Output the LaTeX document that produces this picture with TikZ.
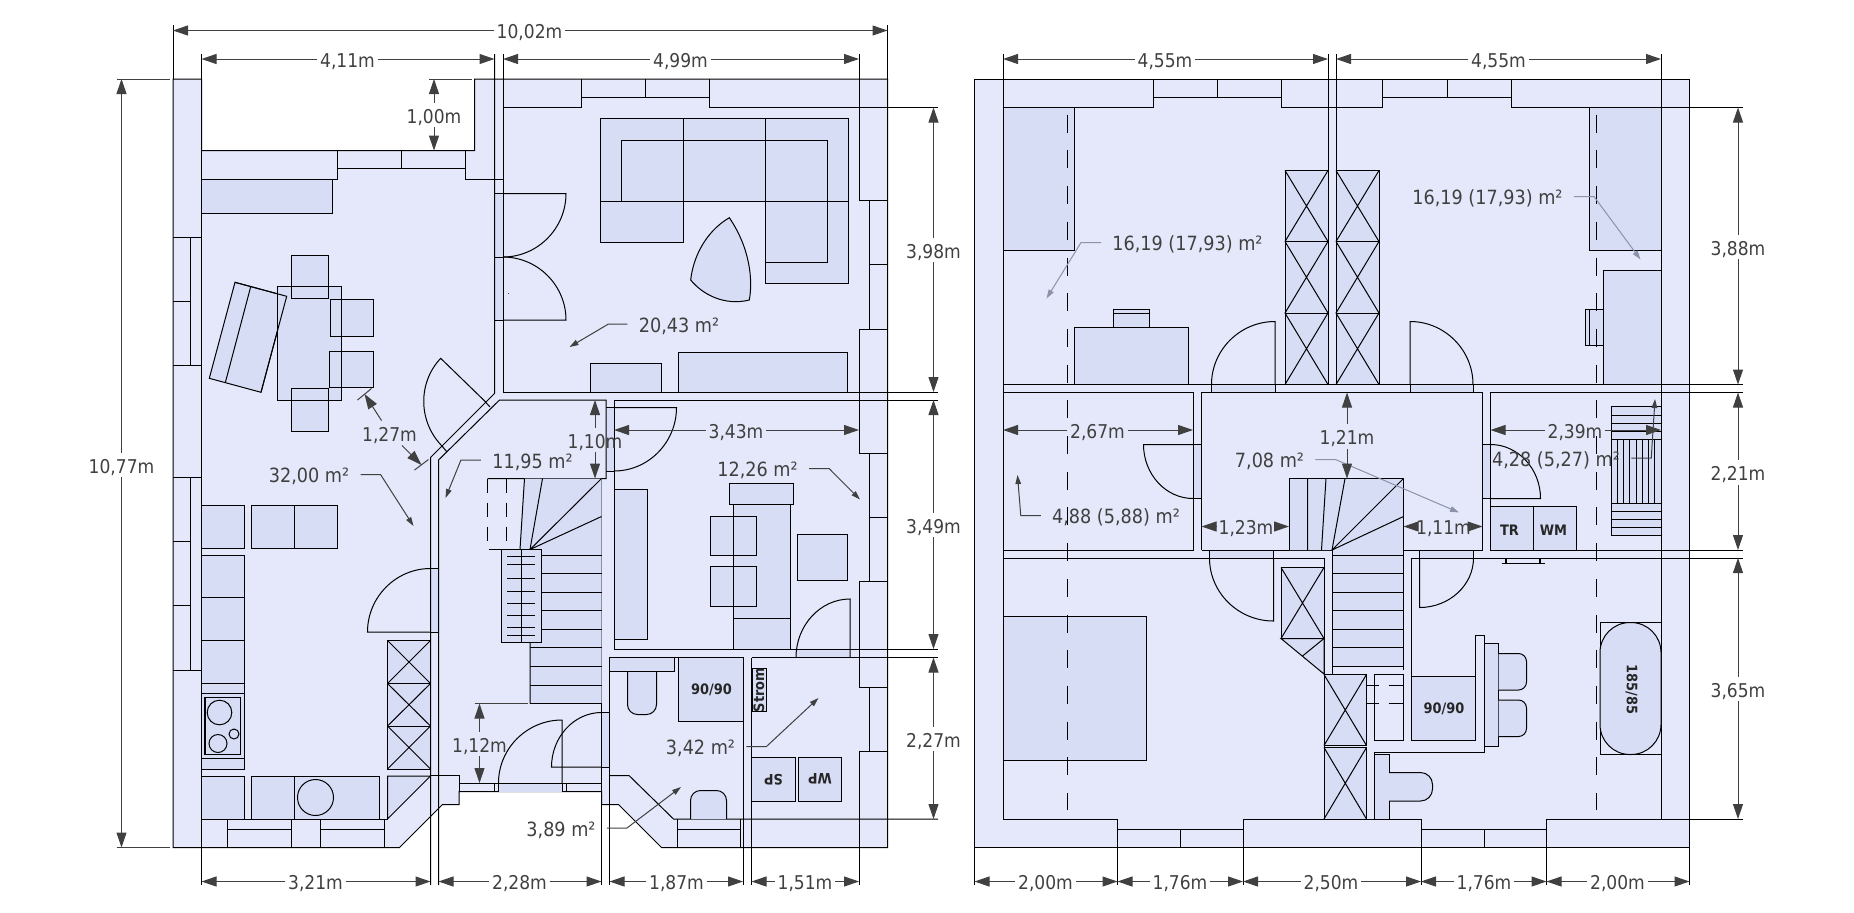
\documentclass[tikz,border=0pt]{standalone}
\usepackage{fontspec}
\setmainfont{DejaVu Sans Condensed}
\usetikzlibrary{arrows.meta,calc}
\definecolor{roomc}{RGB}{228,232,250}
\definecolor{furnc}{RGB}{216,221,246}
\definecolor{dimc}{RGB}{64,64,64}
\definecolor{paleleader}{RGB}{140,146,170}
\tikzstyle{wall} = [black,line width=.5pt,line join=miter]
\tikzstyle{furn} = [wall,fill=furnc]
\tikzstyle{dashwall} = [wall,dash pattern=on 9pt off 8.85pt]
\tikzstyle{dashstair} = [wall,dash pattern=on 7pt off 5pt]
\tikzstyle{lbl} = [text=dimc,font=\fontsize{9.5pt}{11pt}\selectfont,text height=8pt,text depth=0pt,inner xsep=1.2pt,inner ysep=2pt]
\tikzstyle{area} = [lbl,font=\fontsize{9.8pt}{11pt}\selectfont,inner xsep=5.5pt,inner ysep=0pt]
\tikzstyle{tag} = [text=black!85,font=\fontsize{7.2pt}{8pt}\selectfont\bfseries,inner sep=0pt]
\tikzstyle{dimarrow} = [dimc,line width=.5pt,-{Triangle[length=7.5pt,width=5pt]}]
\tikzstyle{leader} = [dimc,line width=.5pt,-{Triangle[length=4.5pt,width=2.8pt]}]
\tikzstyle{paleline} = [leader,paleleader]
% dimension: name, label position, text, both ends
\newcommand{\dimset}[5]{
  \node[lbl] (#1) at (#2) {#3};
  \draw[dimarrow] (#1) -- (#4);
  \draw[dimarrow] (#1) -- (#5);
}
% door: hinge, leaf end, end of the swing
\newcommand{\doorleaf}[3]{
  \draw[wall] (#1) -- (#2) .. controls ($(#2)+.55*(#3)-.55*(#1)$) and ($(#3)+.55*(#2)-.55*(#1)$) .. (#3);
}
% cupboard with crossed diagonals
\newcommand{\xbox}[4]{
  \draw[furn] (#1,#2) rectangle (#3,#4);
  \draw[wall] (#1,#2) -- (#3,#4) (#3,#2) -- (#1,#4);
}
\begin{document}
\begin{tikzpicture}[x=.5pt,y=-.5pt]
\useasboundingbox (0,0) rectangle (1854,912);

% Ground floor: outline
\draw[wall,fill=roomc] (173,79) -- (201.5,79) -- (201.5,150.5) -- (474.5,150.5) -- (474.5,79) -- (887.5,79) -- (887.5,847.5) -- (661.5,847.5) -- (618.5,804.5) -- (601.5,804.5) -- (601.5,791.5) -- (459,791.5) -- (459,804.5) -- (442.5,804.5) -- (399.5,847.5) -- (173,847.5) -- cycle;

% Door openings
\fill[furnc] (494.5,193.5) rectangle (503,320);
\fill[furnc] (430.5,568.5) rectangle (438.5,632);
\fill[furnc] (498.5,783) rectangle (562,791.5);
\fill[furnc] (601.5,712.5) rectangle (609.5,767);
\fill[furnc] (606,407.5) rectangle (614,471);
\fill[furnc] (796,649) rectangle (850,657.5);

% Walls
\draw[wall] (173,25) -- (173,79) (887.5,25) -- (887.5,79);
\draw[wall] (201.5,54) -- (201.5,885);
\draw[wall] (201.5,179) -- (337,179) -- (337,150.5);
\draw[wall] (337,168.5) -- (465.5,168.5) -- (465.5,150.5) (401.5,150.5) -- (401.5,168.5);
\draw[wall] (465.5,168.5) -- (465.5,179) -- (503,179);
\draw[wall] (494.5,54) -- (494.5,393.5) -- (430.5,457.5) -- (430.5,885);
\draw[wall] (503,54) -- (503,392) -- (938,392);
\draw[wall] (503,107.5) -- (581,107.5) -- (581,79) (581,97) -- (709,97) (645,79) -- (645,97);
\draw[wall] (709,79) -- (709,107.5) -- (938,107.5);
\draw[wall] (859,54) -- (859,200.5) -- (887.5,200.5) (869.5,200.5) -- (869.5,329) (869.5,264.5) -- (887.5,264.5);
\draw[wall] (887.5,329) -- (859,329) -- (859,453.5) -- (887.5,453.5) (869.5,453.5) -- (869.5,581) (869.5,517.5) -- (887.5,517.5);
\draw[wall] (887.5,581) -- (859,581) -- (859,687) -- (887.5,687) (869.5,687) -- (869.5,751);
\draw[wall] (887.5,751) -- (859,751) -- (859,885);
\draw[wall] (438.5,885) -- (438.5,460) -- (499.5,400) -- (606,400) -- (606,478.5) -- (487.5,478.5);
\draw[wall] (614,649) -- (614,400) -- (938,400);
\draw[wall] (614,649) -- (938,649);
\draw[wall] (609.5,657.5) -- (743,657.5) (751.5,657.5) -- (938,657.5);
\draw[wall] (609.5,885) -- (609.5,657.5);
\draw[wall] (609.5,775.5) -- (629,775.5) -- (673.5,819) -- (938,819);
\draw[wall] (601.5,478.5) -- (601.5,885);
\draw[wall] (743,657.5) -- (743,885) (751.5,657.5) -- (751.5,885);
\draw[wall] (677,819) -- (677,847.5) (740.5,819) -- (740.5,847.5) (677,829.5) -- (740.5,829.5);
\draw[wall] (459,791.5) -- (459,775.5) -- (430.5,775.5) (459,783) -- (601.5,783);
\draw[wall] (494.5,783) -- (494.5,791.5) (498.5,783) -- (498.5,791.5) (562,783) -- (562,791.5) (566,783) -- (566,791.5);

% Windows left and below
\draw[wall] (173,237) -- (201.5,237) (190.5,237) -- (190.5,365.5) (173,301.5) -- (190.5,301.5) (173,365.5) -- (201.5,365.5);
\draw[wall] (173,477) -- (201.5,477) (190.5,477) -- (190.5,670) (173,541.5) -- (190.5,541.5) (173,605.5) -- (190.5,605.5) (173,670) -- (201.5,670);
\draw[wall] (227,819) -- (227,847.5) (291,819) -- (291,847.5) (320,819) -- (320,847.5) (384,819) -- (384,847.5);
\draw[wall] (227,829.5) -- (291,829.5) (320,829.5) -- (384,829.5);

% Doors
\draw[wall] (494.5,193.5) -- (503,193.5) (494.5,257) -- (503,257) (494.5,320) -- (503,320);
\doorleaf{503,193.5}{566,193.5}{503,257}
\doorleaf{503,320}{566,320}{503,257}
\fill[black!70] (508,292.5) rectangle (509,293.5);
\doorleaf{430.5,632}{367.5,632}{430.5,568.5}
\draw[wall] (430.5,632) -- (438.5,632) (430.5,568.5) -- (438.5,568.5);
\doorleaf{485.7,402}{440.7,358.3}{443,447}
\draw[wall] (485,401.5) -- (490,407) (442,446) -- (447,452);
\doorleaf{562,783}{562,720}{498.5,783}
\doorleaf{601.5,767}{551.5,767}{601.5,712.5}
\draw[wall] (601.5,767) -- (609.5,767) (601.5,712.5) -- (609.5,712.5);
\doorleaf{614,407.5}{676.5,407.5}{614,471}
\draw[wall] (606,407.5) -- (614,407.5) (606,471) -- (614,471);
\doorleaf{850,657.5}{850,599}{796,657.5}

% Living room
\draw[furn] (600,118.5) rectangle (848.5,201);
\draw[furn] (600,201) rectangle (683,242.5);
\draw[furn] (765.5,201) rectangle (848.5,283.5);
\draw[wall] (683,118.5) -- (683,201) (765.5,118.5) -- (765.5,201);
\draw[wall] (621.5,201) -- (621.5,140) -- (827,140) -- (827,262.5) -- (765.5,262.5);
\draw[furn] (729.3,217.7) .. controls (705,232) and (693,258) .. (690.7,280) .. controls (703,295) and (725,306) .. (749.3,300) .. controls (753,280) and (750,248) .. cycle;
\draw[furn] (590.5,392) -- (590.5,363.5) -- (661,363.5) -- (661,392);
\draw[furn] (678.5,392) -- (678.5,352.5) -- (847,352.5) -- (847,392);

% Dining and kitchen
\draw[furn] (201.5,213.5) -- (332,213.5) -- (332,179) -- (201.5,179);
\draw[furn] (235,282.3) -- (286.7,296.3) -- (261,392.3) -- (209.3,378.3) -- cycle;
\draw[wall] (250.7,286.7) -- (225.3,382.7);
\fill[furnc] (277.5,286.5) rectangle (341.5,400.5);
\draw[furn] (291,255) rectangle (328,298);
\draw[furn] (330,299) rectangle (373,336);
\draw[furn] (329.5,351) rectangle (373,387.5);
\draw[furn] (291,388.5) rectangle (328,431);
\draw[wall] (277.5,286.5) rectangle (341.5,400.5);
\draw[wall] (235,282.3) -- (286.7,296.3) -- (261,392.3);
\draw[furn] (201.5,505) rectangle (244,548);
\draw[furn] (251,505) rectangle (337,548);
\draw[wall] (294,505) -- (294,548);
\draw[furn] (201.5,555) rectangle (244,769);
\draw[wall] (201.5,597.5) -- (244,597.5) (201.5,640.5) -- (244,640.5) (201.5,683.5) -- (244,683.5);
\draw[wall] (201.5,693) -- (244,693) (201.5,758) -- (244,758);
\draw[wall,line width=.8pt] (205,697.5) rectangle (240.5,754.5);
\draw[wall] (219.5,712.5) circle (12.3) (218,743.5) circle (9) (234,734) circle (5);
\draw[furn] (201.5,776) rectangle (244,819);
\draw[furn] (251,776) rectangle (379.5,819);
\draw[wall] (294,776) -- (294,819);
\draw[wall] (315.5,797.5) circle (18);
\draw[furn] (387.5,819) -- (387.5,776) -- (430.5,776) -- cycle;
\draw[wall] (201.5,819) -- (387.5,819);
\xbox{387.5}{640.5}{430.5}{683.5}
\xbox{387.5}{683.5}{430.5}{726}
\xbox{387.5}{726}{430.5}{769}

% Stairs
\fill[furnc] (524.5,478.5) -- (601.5,478.5) -- (601.5,703.5) -- (530,703.5) -- (530,549.5) -- (520,549.5) -- cycle;
\draw[wall] (530,703.5) -- (530,549.5) -- (542.5,478.5) (524.5,478.5) -- (520,549.5) (530,549.5) -- (601.5,478.5) (530,549.5) -- (601.5,516.5);
\draw[wall] (530,703.5) -- (601.5,703.5);
\foreach \y in {555,573.5,592,610.5,629,647.5,666,685}
  \draw[wall] (530,\y) -- (601.5,\y);
\draw[dashstair] (487.5,478.5) -- (487.5,549.5) -- (501.5,549.5) (506,478.5) -- (506,549.5);
\draw[wall,fill=furnc] (501.5,549.5) rectangle (541,642.5);
\draw[wall] (521.5,549.5) -- (521.5,642.5);
\foreach \y in {556,564.5,578.5,591,603,615,627,635.5}
  \draw[wall] (507,\y) -- (535,\y);

% Study
\draw[furn] (614,489.5) rectangle (647.5,639.5);
\draw[furn] (733,649) -- (733,504) -- (790,504) -- (790,649);
\draw[wall] (733,618.5) -- (790,618.5);
\draw[furn] (729.5,483.5) rectangle (793.5,504);
\draw[furn] (710,516.5) rectangle (756.5,555.5);
\draw[furn] (710,566.5) rectangle (756.5,606);
\draw[wall] (733,516.5) -- (733,606);
\draw[furn] (797,534) rectangle (847,580);

% Bathroom and utility
\draw[furn] (609.5,657.5) rectangle (674,671.5);
\draw[furn,rounded corners=5pt] (627.5,671.5) -- (627.5,714.5) -- (656.5,714.5) -- (656.5,671.5);
\draw[wall] (627.5,671.5) -- (656.5,671.5);
\draw[furn] (678.5,657.5) rectangle (743,721.5);
\node[tag] (groundshower) at (711.5,689.5) {90/90};
\draw[furn,rounded corners=5pt] (690.5,819) -- (690.5,790.5) -- (726.5,790.5) -- (726.5,819);
\draw[furn] (752,668.5) rectangle (766,711.5);
\node[tag,rotate=90] (strom) at (759,690) {Strom};
\draw[furn] (751.5,757.5) rectangle (795,801);
\draw[furn] (798.5,757.5) rectangle (841.5,801);
\node[tag,rotate=180] (spbox) at (773.5,780) {SP};
\node[tag,rotate=180] (wpbox) at (820,779) {WP};

% Ground floor: areas
\node[area] (livearea) at (679,324) {20,43 m²};
\draw[leader] (livearea.west) -- ++(-19,0) -- (569.5,347);
\node[area] (diningarea) at (309,474.5) {32,00 m²};
\draw[leader] (diningarea.east) -- ++(20,0) -- (413.5,526);
\node[area] (hallarea) at (532.5,460) {11,95 m²};
\draw[leader] (hallarea.west) -- ++(-20,0) -- (445.5,498);
\node[area] (studyarea) at (757.5,468.5) {12,26 m²};
\draw[leader] (studyarea.east) -- ++(20,0) -- (860,499.5);
\node[area] (utilarea) at (700.5,746.5) {3,42 m²};
\draw[leader] (utilarea.east) -- ++(20,0) -- (818.5,698);
\node[area] (wcarea) at (561,828) {3,89 m²};
\draw[leader] (wcarea.east) -- ++(20,0) -- (681,787);

% Ground floor: dimensions
\dimset{gtotal}{529.5,30.5}{10,02m}{173,30.5}{887.5,30.5}
\dimset{gleft}{347.5,59}{4,11m}{201.5,59}{494.5,59}
\dimset{gright}{680.5,59}{4,99m}{503,59}{859,59}
\dimset{gheight}{121.5,465}{10,77m}{121.5,79}{121.5,847.5}
\draw[wall,dimc] (116.5,79) -- (170,79) (116.5,847.5) -- (170,847.5);
\dimset{gnotch}{434,115}{1,00m}{434,79}{434,150.5}
\draw[wall,dimc] (429,79) -- (472,79);
\dimset{gliving}{933.5,250}{3,98m}{933.5,107.5}{933.5,392}
\dimset{gstudy}{933.5,525}{3,49m}{933.5,400}{933.5,649}
\dimset{gbath}{933.5,739}{2,27m}{933.5,657.5}{933.5,819}
\dimset{gbedge}{595,440}{1,10m}{595,400}{595,478.5}
\dimset{gstudyw}{736,430}{3,43m}{614,430}{859,430}
\dimset{gentry}{479.5,744}{1,12m}{479.5,703.5}{479.5,783}
\draw[wall,dimc] (474.5,703.5) -- (528,703.5);
\dimset{gdiag}{389.5,433}{1,27m}{364.5,394}{421.5,465}
\draw[wall,dimc] (357.5,400) -- (371.5,388.5) (414.5,470) -- (428.5,459.5);
\dimset{gb1}{315.5,881.5}{3,21m}{201.5,881.5}{430.5,881.5}
\dimset{gb2}{519.5,881.5}{2,28m}{438.5,881.5}{601.5,881.5}
\dimset{gb3}{676.5,881.5}{1,87m}{609.5,881.5}{743,881.5}
\dimset{gb4}{805,881.5}{1,51m}{751.5,881.5}{859,881.5}

% Upper floor: outline
\draw[wall,fill=roomc] (974.5,79) rectangle (1689.5,847.5);

% Door openings
\fill[furnc] (1211.5,384.5) rectangle (1275,392.5);
\fill[furnc] (1410,384.5) rectangle (1473,392.5);
\fill[furnc] (1193,444.5) rectangle (1201.5,498.5);
\fill[furnc] (1482.5,444.5) rectangle (1490.5,498.5);
\fill[furnc] (1209.5,550) rectangle (1273.5,558);
\fill[furnc] (1419,550) rectangle (1473.5,558);

% Walls
\draw[wall] (974.5,847.5) -- (974.5,885) (1689.5,847.5) -- (1689.5,885);
\draw[wall] (1003,54) -- (1003,819) (1661,54) -- (1661,819);
\draw[wall] (1003,107.5) -- (1153,107.5) -- (1153,79) (1153,97) -- (1281.5,97) (1217,79) -- (1217,97);
\draw[wall] (1281.5,97) -- (1281.5,79) (1281.5,97) -- (1281.5,107.5) -- (1382.5,107.5) -- (1382.5,79);
\draw[wall] (1382.5,97) -- (1511,97) (1447,79) -- (1447,97) (1511,79) -- (1511,107.5) -- (1743,107.5);
\draw[wall] (1328,54) -- (1328,384.5) (1336,54) -- (1336,384.5);
\draw[wall] (1003,384.5) -- (1743,384.5);
\draw[wall] (1003,392.5) -- (1193,392.5) -- (1193,550) -- (1003,550);
\draw[wall] (1201.5,550) -- (1201.5,392.5) -- (1482.5,392.5) -- (1482.5,550) -- (1201.5,550);
\draw[wall] (1490.5,550) -- (1490.5,392.5) -- (1743,392.5) (1490.5,550) -- (1743,550);
\draw[wall] (1003,558) -- (1324,558) -- (1324,819);
\draw[wall] (1411.5,740.5) -- (1411.5,558) -- (1743,558);
\draw[wall] (1003,819) -- (1117.5,819) -- (1117.5,885) (1243,885) -- (1243,819) -- (1421,819) -- (1421,885);
\draw[wall] (1546.5,885) -- (1546.5,819) -- (1743,819);
\draw[wall] (1117.5,829.5) -- (1243,829.5) (1180,829.5) -- (1180,847.5);
\draw[wall] (1421,829.5) -- (1546.5,829.5) (1484,829.5) -- (1484,847.5);

% Bedrooms
\draw[furn] (1003,107.5) rectangle (1074.5,250.5);
\draw[furn] (1589.5,107.5) rectangle (1661,250.5);
\draw[furn] (1074.5,327.5) rectangle (1188.5,384.5);
\draw[furn] (1113.5,309.5) rectangle (1149.5,327.5);
\draw[wall] (1113.5,313) -- (1149.5,313);
\draw[furn] (1603.5,270.5) rectangle (1661,384.5);
\draw[furn] (1585.5,309.5) rectangle (1603.5,345);
\draw[wall] (1589.5,309.5) -- (1589.5,345);
\xbox{1285}{170.5}{1328}{241.5}
\xbox{1285}{241.5}{1328}{313}
\xbox{1285}{313}{1328}{384.5}
\xbox{1336}{170.5}{1379}{241.5}
\xbox{1336}{241.5}{1379}{313}
\xbox{1336}{313}{1379}{384.5}

% Doors
\doorleaf{1275,384.5}{1275,321.5}{1211.5,384.5}
\draw[wall] (1275,384.5) -- (1275,392.5) (1211.5,384.5) -- (1211.5,392.5);
\doorleaf{1410,384.5}{1410,321.5}{1473,384.5}
\draw[wall] (1410,384.5) -- (1410,392.5) (1473,384.5) -- (1473,392.5);
\doorleaf{1193,444.5}{1143.5,444.5}{1193,498.5}
\draw[wall] (1193,444.5) -- (1201.5,444.5) (1193,498.5) -- (1201.5,498.5);
\doorleaf{1490.5,498.5}{1540.5,498.5}{1490.5,444.5}
\draw[wall] (1482.5,498.5) -- (1490.5,498.5) (1482.5,444.5) -- (1490.5,444.5);
\doorleaf{1273.5,558}{1273.5,621}{1209.5,558}
\draw[wall] (1273.5,550) -- (1273.5,558) (1209.5,550) -- (1209.5,558);
\doorleaf{1419.5,558}{1419.5,607.5}{1473.5,558}
\draw[wall] (1419.5,550) -- (1419.5,558) (1473.5,550) -- (1473.5,558);

% Stairs
\fill[furnc] (1289,478.5) -- (1403.5,478.5) -- (1403.5,666) -- (1332,666) -- (1332,550) -- (1289,550) -- cycle;
\draw[wall] (1289,550) -- (1289,478.5) -- (1403.5,478.5) -- (1403.5,670);
\draw[wall] (1307.5,478.5) -- (1307.5,550) (1326,478.5) -- (1321.5,550) (1345,478.5) -- (1332,550);
\draw[wall] (1332,550) -- (1403.5,478.5) (1332,550) -- (1403.5,516.5);
\draw[wall] (1332,550) -- (1332,666);
\foreach \y in {555,573.5,592,610.5,629,647.5,666}
  \draw[wall] (1332,\y) -- (1403.5,\y);
\draw[dashstair] (1332,666) -- (1332,703.5);
\draw[dashstair] (1340.5,685) -- (1403.5,685) (1340.5,703.5) -- (1403.5,703.5);

% Cupboards by the stairs
\xbox{1281}{567.5}{1324}{638.5}
\draw[furn] (1281,638.5) -- (1324,638.5) -- (1324,674) -- cycle;
\draw[wall] (1324,638.5) -- (1302.5,656);
\xbox{1324}{674.5}{1366.5}{745.5}
\xbox{1324}{747.5}{1366.5}{819}
\draw[wall] (1374.5,674.5) rectangle (1403.5,740.5);

% Bathroom
\draw[furn] (1411.5,676) rectangle (1475.5,740.5);
\node[tag] (uppershower) at (1444,709) {90/90};
\draw[wall] (1374.5,819) -- (1374.5,752.5) -- (1484,752.5) -- (1484,635.5) -- (1475.5,635.5) -- (1475.5,740.5);
\draw[furn] (1484,643.5) rectangle (1498.5,746.5);
\draw[furn,rounded corners=4pt] (1498.5,653.5) -- (1526.5,653.5) -- (1526.5,690) -- (1498.5,690);
\draw[furn,rounded corners=4pt] (1498.5,700) -- (1526.5,700) -- (1526.5,736.5) -- (1498.5,736.5);
\draw[furn] (1374.5,754.5) rectangle (1389,819);
\draw[furn,rounded corners=6pt] (1389,772.5) -- (1432.5,772.5) -- (1432.5,801) -- (1389,801);
\draw[wall] (1600,622.5) rectangle (1661,754.5);
\draw[furn,rounded corners=15pt] (1600,622.5) rectangle (1661,754.5);
\node[tag,rotate=-90] (tub) at (1631.5,689.5) {185/85};

% Bedroom, side rooms
\draw[furn] (1003,616.5) rectangle (1146,760);
\draw[furn] (1490.5,506.5) rectangle (1533,550);
\draw[furn] (1533,506.5) rectangle (1576,550);
\node[tag] (trbox) at (1509.5,530) {TR};
\node[tag] (wmbox) at (1553.5,530) {WM};
\draw[wall,line width=.8pt] (1501.5,563.5) -- (1544.5,563.5);
\draw[wall,line width=.9pt] (1506,558) -- (1506,563.5) (1540,558) -- (1540,563.5);
\draw[furn] (1611,406.5) rectangle (1661,535.5);
\foreach \y in {415,423,431,439,503.5,511.5,519.5,527.5}
  \draw[wall] (1611,\y) -- (1661,\y);
\foreach \x in {1617,1623.5,1629.5,1636,1642,1648.5,1654.5}
  \draw[wall] (\x,439) -- (\x,503.5);

% Roof slope
\draw[dashwall] (1067.5,114.7) -- (1067.5,810) (1596.5,114.7) -- (1596.5,810);

% Upper floor: areas
\node[area] (westarea) at (1187.5,242.5) {16,19 (17,93) m²};
\draw[paleline] (westarea.west) -- ++(-20,0) -- (1046.5,298.5);
\node[area] (eastarea) at (1487.5,196.5) {16,19 (17,93) m²};
\draw[paleline] (eastarea.east) -- ++(20,0) -- (1640.5,259.5);
\node[area] (corridorarea) at (1269.5,459.5) {7,08 m²};
\draw[paleline] (corridorarea.east) -- ++(20,0) -- (1459,512.5);
\node[area] (boxarea) at (1116,515.5) {4,88 (5,88) m²};
\draw[leader] (boxarea.west) -- ++(-20,0) -- (1017.5,475);
\node[area] (laundryarea) at (1556,458) {4,28 (5,27) m²};
\draw[leader] (laundryarea.east) -- ++(20,0) -- (1655,399);

% Upper floor: dimensions
\dimset{uleft}{1165,59}{4,55m}{1003,59}{1328,59}
\dimset{uright}{1498.5,59}{4,55m}{1336,59}{1661,59}
\dimset{uwest}{1738,247}{3,88m}{1738,107.5}{1738,384.5}
\dimset{umid}{1738,472.5}{2,21m}{1738,392.5}{1738,550}
\dimset{usouth}{1738,689}{3,65m}{1738,558}{1738,819}
\dimset{ubox}{1097.5,430}{2,67m}{1003,430}{1193,430}
\dimset{ulaundry}{1575,430}{2,39m}{1490.5,430}{1661,430}
\dimset{ucorr}{1347,436.5}{1,21m}{1347,392.5}{1347,478.5}
\dimset{ustairl}{1246,526.5}{1,23m}{1201.5,526.5}{1289,526.5}
\dimset{ustairr}{1443.5,526.5}{1,11m}{1403.5,526.5}{1482.5,526.5}
\dimset{ub1}{1045.5,881.5}{2,00m}{974.5,881.5}{1117.5,881.5}
\dimset{ub2}{1180,881.5}{1,76m}{1117.5,881.5}{1243,881.5}
\dimset{ub3}{1331,881.5}{2,50m}{1243,881.5}{1421,881.5}
\dimset{ub4}{1484,881.5}{1,76m}{1421,881.5}{1546.5,881.5}
\dimset{ub5}{1617.5,881.5}{2,00m}{1546.5,881.5}{1689.5,881.5}
\end{tikzpicture}
\end{document}
